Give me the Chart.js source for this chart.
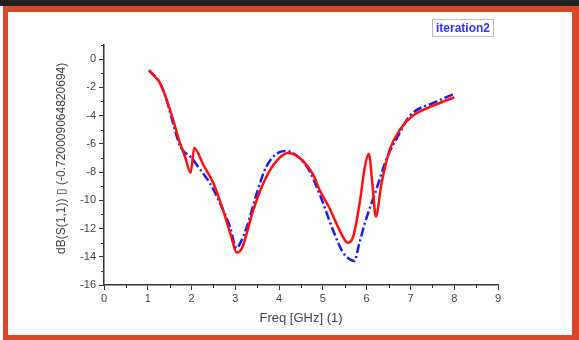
<!DOCTYPE html>
<html>
<head>
<meta charset="utf-8">
<script src="https://cdn.jsdelivr.net/npm/chart.js@4.4.1/dist/chart.umd.min.js"></script>
<style>
  body { margin: 0; width: 579px; height: 340px; background: #fff; position: relative; overflow: hidden; }
  #topbar { position: absolute; left: 0; top: 0; width: 579px; height: 6px; background: #222; }
  #frame { position: absolute; left: 3px; top: 6px; width: 564px; height: 323px;
           border-style: solid; border-color: #d9472b; border-width: 6px 7px 5px 5px; background: #fff; }
  #wrap { position: absolute; left: 0; top: 0; width: 579px; height: 340px; }
  #legendBox { position: absolute; left: 432px; top: 19px; padding: 1px 3px 1px 3px; border: 1px solid #bbb;
               font: bold 12px "Liberation Sans", Arial, sans-serif; color: #3333ff; }
</style>
</head>
<body>
<div id="topbar"></div>
<div id="frame"></div>
<div id="wrap"><canvas id="sChart" width="579" height="340"></canvas></div>
<div id="legendBox">iteration2</div>
<script>
// red solid curve
let redFreq = [1.03,1.15,1.28,1.43,1.58,1.73,1.85,1.98,2.06,2.27,2.5,2.72,2.91,3.03,3.15,3.41,3.64,3.87,4.2,4.47,4.78,4.93,5.16,5.23,5.46,5.56,5.69,5.85,5.96,6.05,6.13,6.21,6.34,6.53,6.76,7.06,7.52,8.0]
let redDb   = [-0.78,-1.2,-1.7,-2.85,-4.3,-5.9,-6.9,-8.05,-6.3,-7.5,-8.8,-10.7,-12.6,-13.7,-13.4,-10.7,-8.8,-7.5,-6.65,-7.0,-8.2,-9.3,-10.6,-11.1,-12.6,-13.0,-12.6,-10.0,-7.6,-6.7,-8.8,-11.15,-8.8,-6.4,-5.0,-4.0,-3.3,-2.7]
// blue dash-dot curve
let blueFreq = [1.03,1.28,1.43,1.6,1.73,1.81,2.0,2.12,2.42,2.65,2.88,3.03,3.1,3.26,3.49,3.71,4.13,4.63,4.93,5.23,5.46,5.6,5.72,5.82,5.96,6.22,6.45,6.76,6.99,7.52,7.97]
let blueDb   = [-0.8,-1.7,-2.9,-4.8,-6.1,-6.5,-7.0,-7.5,-8.8,-10.2,-11.9,-13.4,-13.1,-11.9,-9.5,-7.6,-6.5,-7.6,-9.6,-12.1,-13.7,-14.15,-14.3,-13.2,-11.6,-9.25,-7.1,-5.2,-4.0,-3.1,-2.5]

let xMinorTicks = [0.5,1.5,2.5,3.5,4.5,5.5,6.5,7.5,8.5]
let yMinorTicks = [-15,-13,-11,-9,-7,-5,-3,-1,1]

function toPoints(xs, ys) {
    return xs.map(function(x, i) { return {x: x, y: ys[i]} })
}

// short minor ticks outside the axes
let minorTicks = {
    id: 'minorTicks',
    afterDraw: function(chart) {
        let c = chart.ctx
        let xs = chart.scales.x, ys = chart.scales.y
        c.save()
        c.strokeStyle = '#333'
        c.lineWidth = 1
        c.beginPath()
        xMinorTicks.forEach(function(v) {
            let px = Math.round(xs.getPixelForValue(v)) + 0.5
            c.moveTo(px, ys.bottom)
            c.lineTo(px, ys.bottom + 3)
        })
        yMinorTicks.forEach(function(v) {
            let py = Math.round(ys.getPixelForValue(v)) + 0.5
            c.moveTo(xs.left, py)
            c.lineTo(xs.left - 3, py)
        })
        c.stroke()
        c.restore()
    }
}

let axisFont = {family: '"Liberation Sans", Arial, sans-serif', size: 11}

new Chart(document.getElementById('sChart'), {
    type: 'line',
    data: {
        datasets: [{
            label: 'red',
            data: toPoints(redFreq, redDb),
            borderColor: '#ff1010',
            borderWidth: 2.5,
            pointRadius: 0,
            cubicInterpolationMode: 'monotone',
            fill: false
        }, {
            label: 'blue',
            data: toPoints(blueFreq, blueDb),
            borderColor: '#1a1aff',
            borderWidth: 2.5,
            borderDash: [9,3,2,3],
            pointRadius: 0,
            cubicInterpolationMode: 'monotone',
            fill: false
        }]
    },
    options: {
        responsive: false,
        animation: false,
        layout: {padding: {left: 52, right: 81, top: 45, bottom: 12}},
        plugins: {legend: {display: false}, tooltip: {enabled: false}},
        scales: {
            x: {
                type: 'linear',
                min: 0, max: 9,
                afterFit: function(s) { s.height = 43 },
                border: {color: '#333', width: 1.5},
                grid: {drawOnChartArea: false, tickLength: 5, color: '#333'},
                ticks: {stepSize: 1, color: '#444', font: axisFont, padding: 2, maxRotation: 0},
                title: {display: true, text: 'Freq [GHz] (1)', color: '#444',
                        font: {family: '"Liberation Sans", Arial, sans-serif', size: 13}, padding: {top: 2, bottom: 2}}
            },
            y: {
                min: -16, max: 1,
                afterFit: function(s) { s.width = 52 },
                border: {color: '#333', width: 1.5},
                grid: {drawOnChartArea: false, tickLength: 5, color: '#333'},
                ticks: {stepSize: 2, includeBounds: false, color: '#444', font: axisFont, padding: 3},
                title: {display: true, text: '    dB(S(1,1)) \u25AF (-0.720009064820694)', color: '#444',
                        font: {family: '"Liberation Sans", Arial, sans-serif', size: 12}, padding: {top: 2, bottom: 2}}
            }
        }
    },
    plugins: [minorTicks]
})
</script>
</body>
</html>
